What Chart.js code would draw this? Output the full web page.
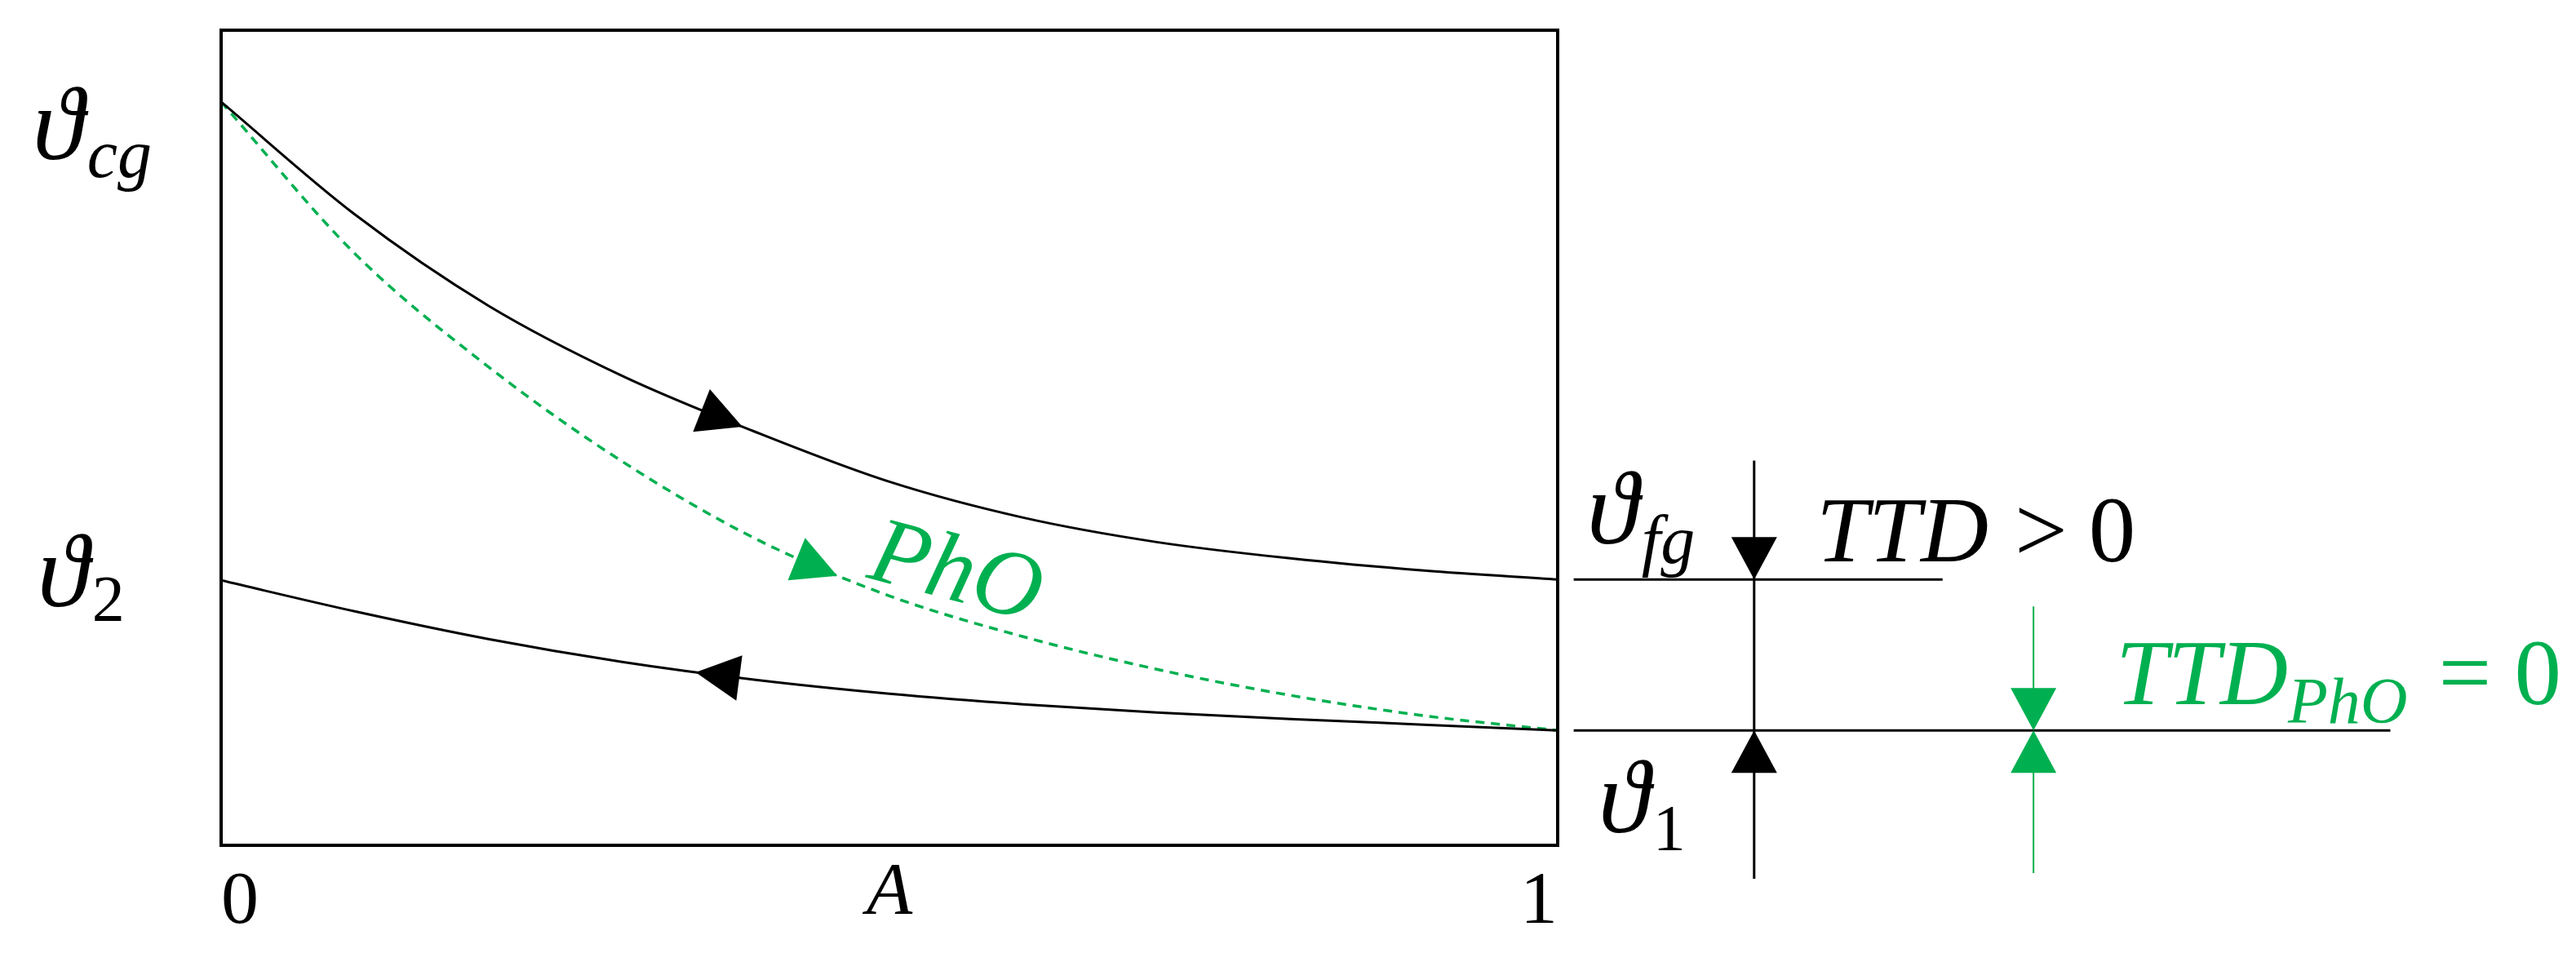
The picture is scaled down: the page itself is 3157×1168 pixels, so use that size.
<!DOCTYPE html>
<html>
<head>
<meta charset="utf-8">
<script src="https://cdn.jsdelivr.net/npm/chart.js@4.4.1/dist/chart.umd.min.js"></script>
<style>html,body{margin:0;padding:0;background:#fff}</style>
</head>
<body>
<canvas id="chart" width="3157" height="1168"></canvas>
<script>
// dimensionless area A (0..1) and temperatures in arbitrary units
var areaA    = [0, 0.1, 0.2, 0.3, 0.4, 0.5, 0.6, 0.7, 0.8, 0.9, 1.0];
var hotTemp  = [91.2, 77.4, 66.2, 57.6, 50.7, 44.6, 40.2, 37.2, 35.2, 33.7, 32.6];
var coldTemp = [32.5, 28.7, 25.3, 22.5, 20.3, 18.6, 17.3, 16.3, 15.5, 14.8, 14.1];
var phoTemp  = [91.2, 72.6, 58.7, 47.1, 37.6, 30.6, 25.6, 21.6, 18.4, 15.9, 14.1];
var xTickLabels = ['0', '1'];

var GREEN = '#00b050';
var SERIF = "'Liberation Serif', 'DejaVu Serif', serif";
var TH = '\u03d1';

var thFg = hotTemp[hotTemp.length - 1];
var th1 = coldTemp[coldTemp.length - 1];

function pts(ys) {
  return areaA.map(function (a, i) { return {x: a, y: ys[i]}; });
}

function tri(ctx, tx, ty, ang, len, wid, color) {
  var bx = tx - Math.cos(ang) * len, by = ty - Math.sin(ang) * len;
  var nx = -Math.sin(ang) * wid / 2, ny = Math.cos(ang) * wid / 2;
  ctx.beginPath();
  ctx.moveTo(tx, ty);
  ctx.lineTo(bx + nx, by + ny);
  ctx.lineTo(bx - nx, by - ny);
  ctx.closePath();
  ctx.fillStyle = color;
  ctx.fill();
}

// runs: [text, size, italic, dy, dx]
function runs(ctx, x, y, list, color) {
  ctx.fillStyle = color;
  ctx.textBaseline = 'alphabetic';
  ctx.textAlign = 'left';
  list.forEach(function (r) {
    ctx.font = (r[2] ? 'italic ' : '') + r[1] + 'px ' + SERIF;
    x += r[4] || 0;
    ctx.fillText(r[0], x, y + (r[3] || 0));
    x += ctx.measureText(r[0]).width;
  });
}

var diagram = {
  id: 'diagram',
  afterDatasetsDraw: function (chart) {
    var ctx = chart.ctx, ca = chart.chartArea;
    var xs = chart.scales.x, ys = chart.scales.y;
    ctx.save();

    // plot frame
    ctx.strokeStyle = '#000';
    ctx.lineWidth = 4;
    ctx.strokeRect(ca.left, ca.top, ca.right - ca.left, ca.bottom - ca.top);

    // flow arrows on the curves
    function curveArrow(idx, a, dir, color) {
      var line = chart.getDatasetMeta(idx).dataset;
      var px = xs.getPixelForValue(a);
      var p = line.interpolate({x: px}, 'x');
      var p1 = line.interpolate({x: px - 6}, 'x');
      var p2 = line.interpolate({x: px + 6}, 'x');
      var ang = Math.atan2(p2.y - p1.y, p2.x - p1.x);
      if (dir < 0) ang += Math.PI;
      tri(ctx, p.x, p.y, ang, 54, 56, color);
    }
    curveArrow(0, 0.39, 1, '#000');
    curveArrow(1, 0.355, -1, '#000');
    curveArrow(2, 0.461, 1, GREEN);

    // dimension arrows on the right
    var bx = xs.getPixelForValue(1.147), gx = xs.getPixelForValue(1.356);
    var yFg = ys.getPixelForValue(thFg), y1 = ys.getPixelForValue(th1);
    tri(ctx, bx, yFg, Math.PI / 2, 52, 56, '#000');
    tri(ctx, bx, y1, -Math.PI / 2, 52, 56, '#000');
    tri(ctx, gx, y1, Math.PI / 2, 52, 56, GREEN);
    tri(ctx, gx, y1, -Math.PI / 2, 52, 56, GREEN);

    // labels
    var yCg = ys.getPixelForValue(hotTemp[0]);
    var y2 = ys.getPixelForValue(coldTemp[0]);
    runs(ctx, 40, yCg + 70, [[TH, 128, true], ['cg', 84, true, 22, 4]], '#000');
    runs(ctx, 46, y2 + 32, [[TH, 128, true], ['2', 80, false, 18, 4]], '#000');
    runs(ctx, ca.right + 36, yFg - 44, [[TH, 128, true], ['fg', 84, true, 24, 4]], '#000');
    runs(ctx, ca.right + 317, yFg - 22, [['TTD', 115, true], ['>', 115, false, 0, 32], ['0', 115, false, 0, 26]], '#000');
    runs(ctx, ca.right + 50, y1 + 125, [[TH, 128, true], ['1', 80, false, 22, 4]], '#000');
    runs(ctx, ca.right + 684, y1 - 32, [['TTD', 115, true], ['PhO', 80, true, 23],
         ['=', 115, false, 0, 38], ['0', 115, false, 0, 28]], GREEN);

    // PhO label along the dashed curve
    ctx.translate(xs.getPixelForValue(0.482), ys.getPixelForValue(phoTemp[4]) + 47);
    ctx.rotate(0.26);
    runs(ctx, 0, 0, [['PhO', 116, true]], GREEN);
    ctx.restore();
  }
};

new Chart(document.getElementById('chart').getContext('2d'), {
  type: 'line',
  data: {
    datasets: [
      {label: 'hot', data: pts(hotTemp), borderColor: '#000', borderWidth: 3,
       pointRadius: 0, cubicInterpolationMode: 'monotone'},
      {label: 'cold', data: pts(coldTemp), borderColor: '#000', borderWidth: 3,
       pointRadius: 0, cubicInterpolationMode: 'monotone'},
      {label: 'PhO', data: pts(phoTemp), borderColor: GREEN, borderWidth: 3.5,
       borderDash: [11, 8], pointRadius: 0, cubicInterpolationMode: 'monotone'},
      {label: 'fg level', data: [{x: 1.012, y: thFg}, {x: 1.288, y: thFg}],
       borderColor: '#000', borderWidth: 3, pointRadius: 0, clip: false},
      {label: '1 level', data: [{x: 1.012, y: th1}, {x: 1.623, y: th1}],
       borderColor: '#000', borderWidth: 3, pointRadius: 0, clip: false},
      {label: 'TTD', data: [{x: 1.147, y: 47.2}, {x: 1.147, y: -4.1}],
       borderColor: '#000', borderWidth: 3, pointRadius: 0, clip: false},
      {label: 'TTD PhO', data: [{x: 1.356, y: 29.3}, {x: 1.356, y: -3.4}],
       borderColor: GREEN, borderWidth: 2, pointRadius: 0, clip: false}
    ]
  },
  options: {
    responsive: false,
    animation: false,
    devicePixelRatio: 1,
    layout: {padding: {left: 271, right: 1248, top: 37, bottom: 0}},
    plugins: {legend: {display: false}, tooltip: {enabled: false}},
    scales: {
      x: {
        type: 'linear', min: 0, max: 1,
        grid: {display: false, drawTicks: false},
        border: {display: false},
        ticks: {stepSize: 1, align: 'inner', padding: 16, color: '#000',
                font: {family: SERIF, size: 92},
                callback: function (v) { return xTickLabels[v]; }},
        title: {display: true, text: 'A', color: '#000',
                font: {family: SERIF, size: 92, style: 'italic'},
                padding: {top: 0, bottom: 17}},
        afterFit: function (s) { s.height = 132; }
      },
      y: {type: 'linear', min: 0, max: 100, display: false}
    }
  },
  plugins: [diagram]
});
</script>
</body>
</html>
